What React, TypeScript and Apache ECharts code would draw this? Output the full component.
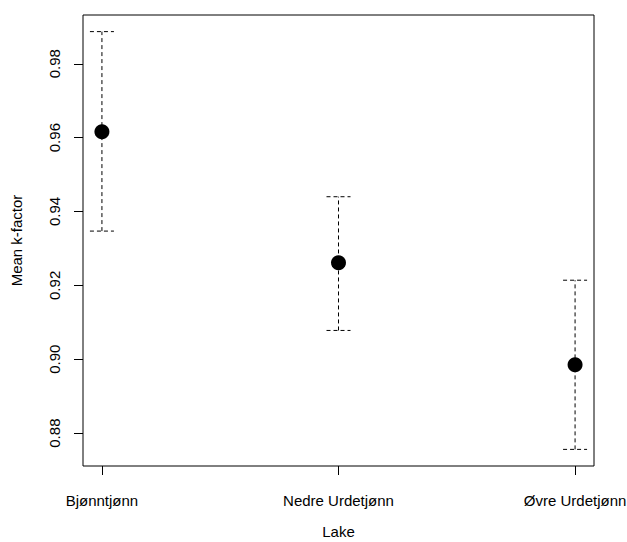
import React, { useEffect, useRef } from "react";
import * as echarts from "echarts";

const lakes = ["Bjønntjønn", "Nedre Urdetjønn", "Øvre Urdetjønn"];
const lakePositions = [1, 2, 3];
const meanK = [0.9616, 0.9261, 0.8985];
const lowerK = [0.9347, 0.9078, 0.8756];
const upperK = [0.9887, 0.944, 0.9214];
const yTicks = [0.88, 0.9, 0.92, 0.94, 0.96, 0.98];

export default function App() {
  const ref = useRef<HTMLDivElement>(null);
  useEffect(() => {
    if (!ref.current) return;
    const chart = echarts.init(ref.current, undefined, { renderer: "svg" });
    const font = "Liberation Sans, Arial, sans-serif";
    const option: any = {
      animation: false,
      backgroundColor: "#fff",
      grid: {
        left: 83,
        right: 33,
        top: 15,
        bottom: 76,
        show: true,
        borderColor: "#000",
        borderWidth: 1,
        backgroundColor: "transparent",
        containLabel: false,
        outerBoundsMode: "none",
      },
      xAxis: {
        type: "value",
        min: 0.92,
        max: 3.08,
        name: "Lake",
        nameLocation: "middle",
        nameGap: 58,
        nameTextStyle: { fontFamily: font, fontSize: 15, color: "#000" },
        axisLine: { show: false },
        splitLine: { show: false },
        axisTick: { show: true, length: 9, lineStyle: { color: "#000" }, customValues: lakePositions },
        axisLabel: {
          margin: 27,
          fontFamily: font,
          fontSize: 15,
          color: "#000",
          hideOverlap: false,
          customValues: lakePositions,
          formatter: (v: number) => lakes[Math.round(v) - 1] ?? "",
        },
      },
      yAxis: {
        type: "value",
        min: 0.8711,
        max: 0.9932,
        name: "Mean k-factor",
        nameLocation: "middle",
        nameGap: 59,
        nameRotate: 90,
        nameTextStyle: { fontFamily: font, fontSize: 15, color: "#000" },
        axisLine: { show: false },
        splitLine: { show: false },
        axisTick: { show: true, length: 9, lineStyle: { color: "#000" }, customValues: yTicks },
        axisLabel: {
          margin: 21,
          rotate: 90,
          fontFamily: font,
          fontSize: 15,
          color: "#000",
          customValues: yTicks,
          formatter: (v: number) => v.toFixed(2),
        },
      },
      series: [
        {
          type: "custom",
          data: lakePositions.map((x, i) => [x, lowerK[i], upperK[i]]),
          encode: { x: 0, y: [1, 2] },
          renderItem: (params: any, api: any) => {
            const x = api.value(0);
            const lo = api.coord([x, api.value(1)]);
            const hi = api.coord([x, api.value(2)]);
            const style = { stroke: "#000", lineWidth: 1, lineDash: [4, 3], fill: "none" };
            const cap = 12;
            return {
              type: "group",
              children: [
                { type: "line", shape: { x1: lo[0], y1: lo[1], x2: hi[0], y2: hi[1] }, style },
                { type: "line", shape: { x1: hi[0] - cap, y1: hi[1], x2: hi[0] + cap, y2: hi[1] }, style },
                { type: "line", shape: { x1: lo[0] - cap, y1: lo[1], x2: lo[0] + cap, y2: lo[1] }, style },
              ],
            };
          },
          z: 2,
        },
        {
          type: "scatter",
          data: lakePositions.map((x, i) => [x, meanK[i]]),
          symbol: "circle",
          symbolSize: 15,
          itemStyle: { color: "#000", opacity: 1 },
          z: 3,
        },
      ],
    };
    chart.setOption(option);
    return () => chart.dispose();
  }, []);
  return (
    <div
      ref={ref}
      style={{ position: "fixed", left: 0, top: 0, width: 627, height: 542, background: "#fff" }}
    />
  );
}
